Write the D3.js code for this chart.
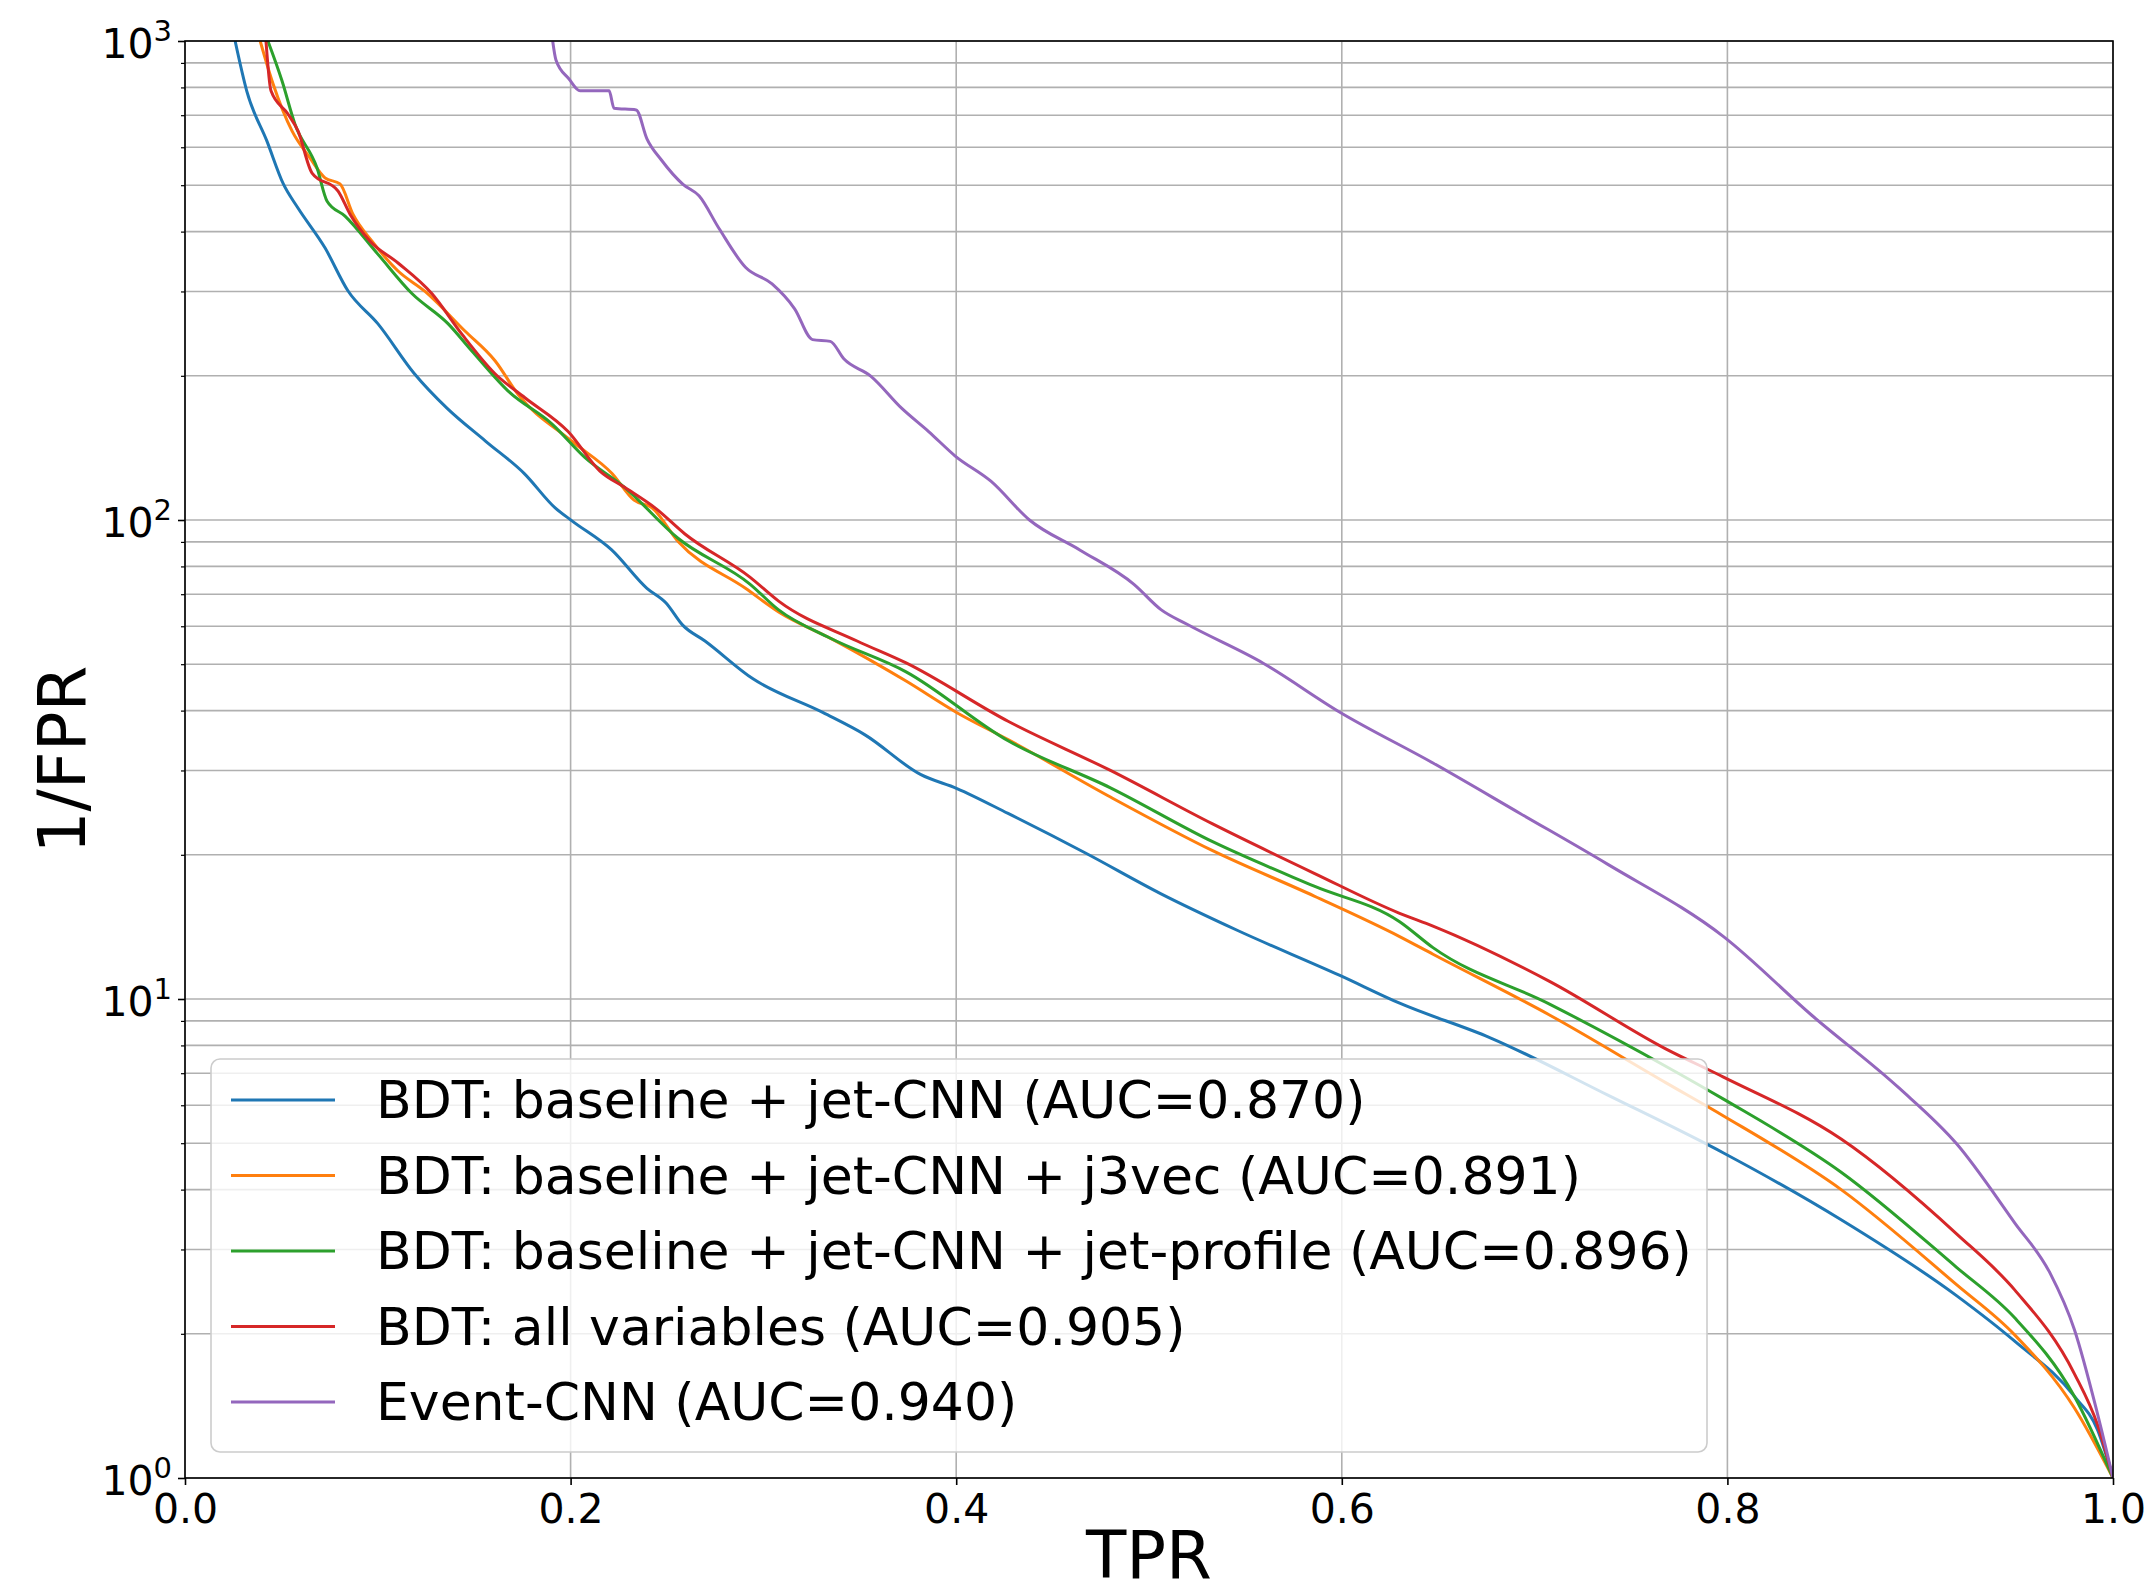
<!DOCTYPE html>
<html>
<head>
<meta charset="utf-8">
<script src="https://cdn.jsdelivr.net/npm/d3@7"></script>
<style>
  body { margin: 0; background: #fff; }
  text { font-family: "DejaVu Sans", sans-serif; fill: #000; }
</style>
</head>
<body>
<div id="chart"></div>
<script>
// ROC curves: TPR and 1/FPR per model
const seriesNames = [
  'BDT: baseline + jet-CNN (AUC=0.870)',
  'BDT: baseline + jet-CNN + j3vec (AUC=0.891)',
  'BDT: baseline + jet-CNN + jet-profile (AUC=0.896)',
  'BDT: all variables (AUC=0.905)',
  'Event-CNN (AUC=0.940)'
];
const seriesColors = ['#1f77b4', '#ff7f0e', '#2ca02c', '#d62728', '#9467bd'];

const tprBase = [0.026, 0.032, 0.0425, 0.051, 0.0586, 0.0726, 0.0845, 0.100, 0.119, 0.136, 0.156, 0.176, 0.192, 0.2007, 0.2213, 0.2396, 0.2495, 0.258, 0.2697, 0.2946, 0.331, 0.3527, 0.3817, 0.4004, 0.4269, 0.4668, 0.506, 0.546, 0.599, 0.630, 0.677, 0.738, 0.798, 0.859, 0.919, 0.949, 0.980, 0.992, 1.0];
const invBase = [1000, 787, 618, 503, 448, 370, 301, 257, 202, 171, 146, 125, 106, 99.6, 86.6, 72, 67.1, 60.4, 55.9, 46.6, 39.6, 35.6, 29.4, 27.5, 24.4, 20.2, 16.6, 13.9, 11.2, 9.8, 8.3, 6.3, 4.77, 3.46, 2.40, 1.93, 1.48, 1.26, 1.0];

const tprJ3vec = [0.039, 0.0457, 0.0555, 0.0648, 0.0726, 0.0804, 0.0871, 0.097, 0.1105, 0.1245, 0.1452, 0.1608, 0.1727, 0.2007, 0.2215, 0.2329, 0.2422, 0.256, 0.2907, 0.3079, 0.3371, 0.374, 0.4004, 0.4269, 0.48, 0.533, 0.5857, 0.630, 0.6473, 0.7075, 0.768, 0.798, 0.859, 0.919, 0.949, 0.980, 1.0];
const invJ3vec = [1000, 813, 649, 570, 518, 503, 435, 382, 331, 300, 248, 215, 183, 146, 125, 110, 106, 90, 72, 64.3, 56, 46.1, 39.6, 34.8, 26.4, 20.4, 16.4, 13.5, 12.4, 9.27, 6.69, 5.7, 4.0, 2.53, 1.99, 1.40, 1.0];

const tprProfile = [0.043, 0.0503, 0.057, 0.0685, 0.0737, 0.083, 0.100, 0.1177, 0.1364, 0.1489, 0.1675, 0.1904, 0.2075, 0.228, 0.2557, 0.293, 0.3079, 0.3345, 0.374, 0.4269, 0.48, 0.533, 0.5857, 0.630, 0.6473, 0.7075, 0.768, 0.798, 0.859, 0.919, 0.949, 0.980, 1.0];
const invProfile = [1000, 826, 671, 543, 463, 431, 359, 297, 257, 225, 186, 158.6, 135, 117, 91.6, 73.5, 64.9, 56.7, 48.2, 34.6, 27.6, 21.3, 17.2, 14.5, 12.8, 9.77, 7.24, 6.18, 4.35, 2.75, 2.16, 1.48, 1.0];

const tprAll = [0.042, 0.0446, 0.0534, 0.0586, 0.0659, 0.0794, 0.0856, 0.096, 0.1105, 0.128, 0.1437, 0.1608, 0.1763, 0.1987, 0.2152, 0.228, 0.2438, 0.2593, 0.293, 0.3079, 0.3486, 0.374, 0.4269, 0.48, 0.533, 0.5857, 0.630, 0.6473, 0.7075, 0.768, 0.798, 0.859, 0.919, 0.949, 0.980, 0.992, 1.0];
const invAll = [1000, 787, 704, 649, 530, 486, 435, 382, 344, 297, 244, 202, 180, 153, 126.5, 117, 106, 93.5, 76, 67.7, 55.9, 50.3, 38, 30, 23.2, 18.3, 15.1, 14.2, 10.9, 7.87, 6.87, 5.1, 3.23, 2.47, 1.65, 1.29, 1.0];

const tprEvent = [0.1907, 0.1924, 0.1992, 0.2049, 0.22, 0.2225, 0.234, 0.2396, 0.247, 0.2583, 0.2666, 0.277, 0.2907, 0.3045, 0.3162, 0.3255, 0.3347, 0.3417, 0.3555, 0.3718, 0.3857, 0.3995, 0.418, 0.438, 0.4643, 0.4922, 0.5062, 0.52, 0.559, 0.599, 0.6473, 0.6925, 0.738, 0.798, 0.8436, 0.889, 0.919, 0.949, 0.9673, 0.980, 0.992, 1.0];
const invEvent = [1000, 913, 833, 787, 787, 724, 718, 625, 565, 502, 475, 406, 337, 311, 276, 238, 236, 217, 200, 171, 153, 136, 120.5, 100, 86.5, 73.4, 65, 60.5, 50.3, 39.7, 31.1, 24.4, 19.1, 13.5, 9.26, 6.52, 4.98, 3.41, 2.68, 2.04, 1.36, 1.0];

const xTicks = [0, 0.2, 0.4, 0.6, 0.8, 1.0];
const yMajor = [1, 10, 100, 1000];

const width = 2152, height = 1593;
const plot = {left: 185, right: 2113, top: 41, bottom: 1478};

const series = [
  [tprBase, invBase], [tprJ3vec, invJ3vec], [tprProfile, invProfile],
  [tprAll, invAll], [tprEvent, invEvent]
].map(([xs, ys], i) => ({
  name: seriesNames[i],
  color: seriesColors[i],
  points: xs.map((t, j) => ({tpr: t, inv: ys[j]}))
}));

const x = d3.scaleLinear().domain([0, 1]).range([plot.left, plot.right]);
const y = d3.scaleLog().domain([1, 1000]).range([plot.bottom, plot.top]);

const yMinor = [];
yMajor.slice(0, -1).forEach(d => {
  for (let k = 2; k <= 9; k++) yMinor.push(d * k);
});

const svg = d3.select('#chart').append('svg')
  .attr('width', width)
  .attr('height', height);

drawGrid();
drawCurves();
drawAxes();
drawLegend();

function drawGrid() {
  const grid = svg.append('g')
    .attr('stroke', '#b0b0b0')
    .attr('stroke-width', 1.6);

  grid.selectAll('line.h')
    .data(yMajor.concat(yMinor))
    .enter().append('line')
    .attr('x1', plot.left).attr('x2', plot.right)
    .attr('y1', d => y(d)).attr('y2', d => y(d));

  grid.selectAll('line.v')
    .data(xTicks)
    .enter().append('line')
    .attr('y1', plot.top).attr('y2', plot.bottom)
    .attr('x1', d => x(d)).attr('x2', d => x(d));
}

function drawCurves() {
  svg.append('clipPath').attr('id', 'clip')
    .append('rect')
    .attr('x', plot.left).attr('y', plot.top)
    .attr('width', plot.right - plot.left)
    .attr('height', plot.bottom - plot.top);

  const line = d3.line()
    .curve(d3.curveMonotoneX)
    .x(d => x(d.tpr))
    .y(d => y(d.inv));

  svg.append('g')
    .attr('clip-path', 'url(#clip)')
    .selectAll('path')
    .data(series)
    .enter().append('path')
    .attr('d', d => line(d.points))
    .attr('fill', 'none')
    .attr('stroke', d => d.color)
    .attr('stroke-width', 3)
    .attr('stroke-linejoin', 'round');
}

function drawAxes() {
  const xAxis = d3.axisBottom(x)
    .tickValues(xTicks)
    .tickSize(7)
    .tickPadding(6)
    .tickFormat(d3.format('.1f'));

  const gx = svg.append('g')
    .attr('transform', `translate(0, ${plot.bottom})`)
    .call(xAxis);
  gx.select('.domain').remove();
  gx.selectAll('.tick line').attr('stroke', '#000').attr('stroke-width', 1.6);
  gx.selectAll('.tick text')
    .attr('font-size', 41)
    .attr('dy', null)
    .attr('y', 45);

  const yAxis = d3.axisLeft(y)
    .tickValues(yMajor)
    .tickSize(7)
    .tickFormat('');

  const gy = svg.append('g')
    .attr('transform', `translate(${plot.left}, 0)`)
    .call(yAxis);
  gy.select('.domain').remove();
  gy.selectAll('.tick line').attr('stroke', '#000').attr('stroke-width', 1.6);

  const label = gy.selectAll('.tick').append('text')
    .attr('x', -13)
    .attr('y', 16)
    .attr('text-anchor', 'end')
    .attr('font-size', 41);
  label.append('tspan').text('10');
  label.append('tspan')
    .attr('font-size', 29)
    .attr('dy', -17)
    .text(d => Math.round(Math.log10(d)));

  const minorAxis = d3.axisLeft(y)
    .tickValues(yMinor)
    .tickSize(4)
    .tickFormat('');
  const gm = svg.append('g')
    .attr('transform', `translate(${plot.left}, 0)`)
    .call(minorAxis);
  gm.select('.domain').remove();
  gm.selectAll('.tick line').attr('stroke', '#000').attr('stroke-width', 1.2);

  // frame
  svg.append('rect')
    .attr('x', plot.left).attr('y', plot.top)
    .attr('width', plot.right - plot.left)
    .attr('height', plot.bottom - plot.top)
    .attr('fill', 'none')
    .attr('stroke', '#000')
    .attr('stroke-width', 1.6);

  svg.append('text')
    .attr('x', (plot.left + plot.right) / 2)
    .attr('y', 1578)
    .attr('text-anchor', 'middle')
    .attr('font-size', 66)
    .text('TPR');

  svg.append('text')
    .attr('transform', `translate(85, ${(plot.top + plot.bottom) / 2}) rotate(-90)`)
    .attr('text-anchor', 'middle')
    .attr('font-size', 66)
    .text('1/FPR');
}

function drawLegend() {
  const legend = svg.append('g').attr('class', 'legend');

  legend.append('rect')
    .attr('x', 211).attr('y', 1059)
    .attr('width', 1496).attr('height', 393)
    .attr('rx', 9)
    .attr('fill', '#fff')
    .attr('fill-opacity', 0.8)
    .attr('stroke', '#cccccc')
    .attr('stroke-width', 1.6);

  const rowY = i => 1100 + i * 75.5;

  const rows = legend.selectAll('g.row')
    .data(series)
    .enter().append('g')
    .attr('transform', (d, i) => `translate(0, ${rowY(i)})`);

  rows.append('line')
    .attr('x1', 231).attr('x2', 335)
    .attr('stroke', d => d.color)
    .attr('stroke-width', 3);

  rows.append('text')
    .attr('x', 376)
    .attr('y', 18)
    .attr('font-size', 52)
    .text(d => d.name);
}
</script>
</body>
</html>
